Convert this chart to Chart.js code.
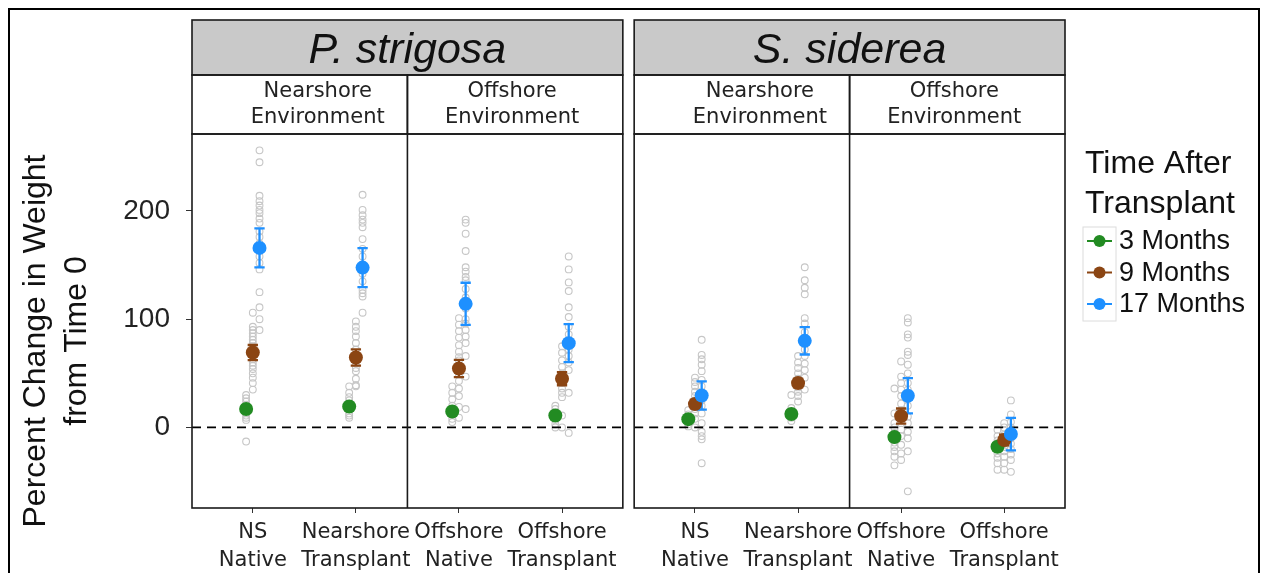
<!DOCTYPE html>
<html>
<head>
<meta charset="utf-8">
<script src="https://cdn.jsdelivr.net/npm/chart.js@4.4.1/dist/chart.umd.min.js"></script>
<style>
html,body{margin:0;padding:0;background:#fff;}
#wrap{width:1262px;height:573px;position:relative;}
</style>
</head>
<body>
<div id="wrap"><canvas id="c" width="1262" height="573"></canvas></div>
<script>
// ---------------- data ----------------
const species = ['P. strigosa', 'S. siderea'];
const environments = [['Nearshore', 'Environment'], ['Offshore', 'Environment']];
const categories = [
  ['NS', 'Native'], ['Nearshore', 'Transplant'], ['Offshore', 'Native'], ['Offshore', 'Transplant'],
  ['NS', 'Native'], ['Nearshore', 'Transplant'], ['Offshore', 'Native'], ['Offshore', 'Transplant']
];
const timeLabels = ['3 Months', '9 Months', '17 Months'];
const yTicks = [0, 100, 200];
const yTitle = ['Percent Change in Weight', 'from Time 0'];
const legendTitle = ['Time After', 'Transplant'];

// group means (one per category)
const mean3  = [17, 19.4, 14.8, 11, 7.7, 12.4, -8.9, -17.8];
const mean9  = [69.2, 64.6, 54.5, 45, 21.6, 41, 10.5, -11.6];
const mean17 = [165.9, 147.7, 114.2, 77.9, 29.5, 80, 29.3, -6.1];
// standard errors
const se3  = [2, 2, 2, 2, 2, 2, 3, 3];
const se9  = [7, 7.5, 8, 6, 4, 4, 7, 5];
const se17 = [18, 18, 19.5, 17.5, 13, 12.6, 16.3, 15];

// individual colonies (one list per category)
const raw3 = [
  [30, 27, 24, 21, 19, 17, 15, 13, 11, 9, 7, -13],
  [38, 32, 28, 25, 22, 19, 17, 13, 11, 9],
  [38, 32, 26, 20, 15, 12, 8, 5],
  [20, 17, 13, 10, 7, 3, 0],
  [16, 12, 8, 6, 3, 1],
  [30, 18, 14, 12, 9, 6],
  [36, 13, 4, 0, -5, -10, -14, -18, -22, -27, -35],
  [-2, -8, -12, -16, -20, -24, -28, -33, -39]
];
const raw9 = [
  [106, 93, 90, 87, 84, 81, 78, 75, 72, 69, 66, 63, 60, 57, 54, 50, 46, 41, 35],
  [98, 93, 89, 84, 78, 72, 66, 63, 59, 55, 52, 45, 39, 38],
  [101, 95, 89, 83, 76, 70, 65, 62, 57, 53, 49, 43, 36, 29, 19, 9],
  [75, 69, 62, 56, 50, 46, 41, 36, 32, 28, 11, 0],
  [46, 42, 38, 33, 29, 25, 21, 17, 13, 8, 0],
  [66, 60, 55, 50, 45, 41, 37, 33, 29, 24],
  [61, 47, 41, 35, 29, 22, 16, 10, 4, -2, -8, -16, -24, -30],
  [4, 0, -3, -7, -11, -15, -18, -22, -27, -33, -39]
];
const raw17 = [
  [256, 245, 214, 209, 205, 201, 198, 193, 189, 181, 176, 170, 164, 158, 152, 146, 125, 111, 100, 90],
  [215, 201, 196, 192, 189, 185, 174, 165, 158, 150, 142, 135, 127, 124, 121, 106],
  [192, 189, 179, 163, 148, 144, 139, 136, 128, 120, 110, 100, 96, 90, 84, 78, 66, 47, 17],
  [158, 146, 134, 126, 111, 102, 93, 86, 78, 72, 66, 60, 53, 32, -5],
  [81, 67, 63, 58, 52, 44, 38, 30, 25, 20, 13, 4, -4, -8, -11, -33],
  [148, 136, 129, 123, 101, 96, 88, 80, 72, 66, 59, 53, 46, 35],
  [101, 97, 86, 83, 70, 67, 58, 50, 41, 35, 28, 20, 10, 4, -4, -10, -22, -59],
  [25, 12, 5, 0, -5, -10, -15, -20, -25, -30, -41]
];

// ---------------- layout / style ----------------
const COLORS = ['#228B22', '#8B4513', '#1E90FF'];
const PER_SPECIES = 4;
const SPECIES_SHIFT = 4.29;   // category units between species panels
const EXPAND = 0.59;          // discrete expansion of each species panel
const DODGE = [-0.065, 0, 0.065];
const CAP_HALF = 0.05;
const Y_MIN = -74.4, Y_MAX = 271.1;
const ENV_TEXT_SHIFT = [18, -3]; // px offset of environment strip labels

const catPos = categories.map((c, i) => (i % PER_SPECIES) + 1 + Math.floor(i / PER_SPECIES) * SPECIES_SHIFT);
const X_MIN = 1 - EXPAND;
const X_MAX = PER_SPECIES + EXPAND + SPECIES_SHIFT;

const means = [mean3, mean9, mean17];
const ses = [se3, se9, se17];
const raws = [raw3, raw9, raw17];

function rawPoints(t) {
  const pts = [];
  raws[t].forEach((list, i) => list.forEach(v => pts.push({x: catPos[i] + DODGE[t], y: v})));
  return pts;
}
function meanPoints(t) {
  return means[t].map((v, i) => ({x: catPos[i] + DODGE[t], y: v}));
}
const zeroLine = [];
species.forEach((s, k) => {
  if (k > 0) zeroLine.push({x: X_MIN + k * SPECIES_SHIFT - 0.05, y: null});
  zeroLine.push({x: X_MIN + k * SPECIES_SHIFT, y: 0});
  zeroLine.push({x: PER_SPECIES + EXPAND + k * SPECIES_SHIFT, y: 0});
});

const datasets = [];
[0, 1, 2].forEach(t => datasets.push({
  type: 'scatter', label: 'raw ' + timeLabels[t], data: rawPoints(t), order: 10 + t,
  pointRadius: 3.4, pointBackgroundColor: 'rgba(0,0,0,0)', pointBorderColor: '#c6c6c6', pointBorderWidth: 1.1
}));
datasets.push({
  type: 'line', label: 'zero', id: 'zero', data: zeroLine, order: 5,
  borderColor: '#000', borderWidth: 1.8, borderDash: [9, 6], pointRadius: 0, spanGaps: false, fill: false
});
[0, 1, 2].forEach(t => datasets.push({
  type: 'scatter', label: timeLabels[t], data: meanPoints(t), order: 3 - t,
  pointRadius: 7, pointBackgroundColor: COLORS[t], pointBorderWidth: 0
}));

const SANS = '"Liberation Sans", Arial, sans-serif';
const DEJA = '"DejaVu Sans", sans-serif';
Chart.defaults.font.family = SANS;

const decor = {
  id: 'decor',
  beforeDraw(chart) {
    const ctx = chart.ctx;
    ctx.save();
    ctx.fillStyle = '#fff';
    ctx.fillRect(0, 0, chart.width, chart.height);
    ctx.restore();
  },
  afterDatasetDraw(chart, args) {
    if (chart.data.datasets[args.index].id !== 'zero') return;
    const ctx = chart.ctx, xs = chart.scales.x, ys = chart.scales.y;
    ctx.save();
    [0, 1, 2].forEach(t => {
      ctx.strokeStyle = COLORS[t];
      ctx.lineWidth = 2.3;
      means[t].forEach((m, i) => {
        const xv = catPos[i] + DODGE[t];
        const x = xs.getPixelForValue(xv);
        const xl = xs.getPixelForValue(xv - CAP_HALF), xr = xs.getPixelForValue(xv + CAP_HALF);
        const yl = ys.getPixelForValue(m - ses[t][i]), yh = ys.getPixelForValue(m + ses[t][i]);
        ctx.beginPath();
        ctx.moveTo(x, yl); ctx.lineTo(x, yh);
        ctx.moveTo(xl, yl); ctx.lineTo(xr, yl);
        ctx.moveTo(xl, yh); ctx.lineTo(xr, yh);
        ctx.stroke();
      });
    });
    ctx.restore();
  },
  afterDraw(chart) {
    const ctx = chart.ctx, xs = chart.scales.x, area = chart.chartArea;
    ctx.save();
    // outer frame
    ctx.strokeStyle = '#000';
    ctx.lineWidth = 2;
    ctx.strokeRect(9, 9, 1250, 620);

    const STRIP_TOP = 20, STRIP_MID = 75;
    species.forEach((name, k) => {
      const l = xs.getPixelForValue(X_MIN + k * SPECIES_SHIFT);
      const r = xs.getPixelForValue(PER_SPECIES + EXPAND + k * SPECIES_SHIFT);
      const d = xs.getPixelForValue(2.5 + k * SPECIES_SHIFT);
      // species strip
      ctx.fillStyle = '#c9c9c9';
      ctx.fillRect(l, STRIP_TOP, r - l, STRIP_MID - STRIP_TOP);
      ctx.strokeStyle = '#1a1a1a';
      ctx.lineWidth = 1.6;
      ctx.strokeRect(l, STRIP_TOP, r - l, STRIP_MID - STRIP_TOP);
      ctx.fillStyle = '#111';
      ctx.font = 'italic 43px ' + SANS;
      ctx.textAlign = 'center';
      ctx.textBaseline = 'alphabetic';
      ctx.fillText(name, (l + r) / 2, 63);
      // environment strips
      ctx.strokeRect(l, STRIP_MID, d - l, area.top - STRIP_MID);
      ctx.strokeRect(d, STRIP_MID, r - d, area.top - STRIP_MID);
      ctx.font = '21px ' + DEJA;
      ctx.textBaseline = 'middle';
      ctx.fillStyle = '#222';
      [[l, d], [d, r]].forEach((seg, e) => {
        const cx = (seg[0] + seg[1]) / 2 + ENV_TEXT_SHIFT[e];
        ctx.fillText(environments[e][0], cx, 92);
        ctx.fillText(environments[e][1], cx, 118);
      });
      // panel borders
      ctx.lineWidth = 1.6;
      ctx.strokeRect(l, area.top, r - l, area.bottom - area.top);
      ctx.beginPath();
      ctx.moveTo(d, area.top); ctx.lineTo(d, area.bottom);
      ctx.stroke();
    });

    // y title
    ctx.save();
    ctx.fillStyle = '#111';
    ctx.font = '32px ' + SANS;
    ctx.textAlign = 'center';
    ctx.textBaseline = 'middle';
    ctx.translate(36, 341);
    ctx.rotate(-Math.PI / 2);
    ctx.fillText(yTitle[0], 0, 0);
    ctx.fillText(yTitle[1], 0, 41);
    ctx.restore();

    // legend
    ctx.fillStyle = '#111';
    ctx.font = '32px ' + SANS;
    ctx.textAlign = 'left';
    ctx.textBaseline = 'alphabetic';
    ctx.fillText(legendTitle[0], 1085, 173);
    ctx.fillText(legendTitle[1], 1085, 213);
    ctx.strokeStyle = '#dcdcdc';
    ctx.lineWidth = 1;
    ctx.strokeRect(1083, 227, 33, 94);
    ctx.font = '27px ' + SANS;
    ctx.textBaseline = 'middle';
    timeLabels.forEach((lab, t) => {
      const y = 241 + t * 31.5;
      ctx.strokeStyle = COLORS[t];
      ctx.lineWidth = 2;
      ctx.beginPath(); ctx.moveTo(1087, y); ctx.lineTo(1112, y); ctx.stroke();
      ctx.fillStyle = COLORS[t];
      ctx.beginPath(); ctx.arc(1099.5, y, 6, 0, Math.PI * 2); ctx.fill();
      ctx.fillStyle = '#111';
      ctx.fillText(lab, 1119, y + 1);
    });
    ctx.restore();
  }
};

new Chart(document.getElementById('c'), {
  type: 'scatter',
  data: {datasets},
  options: {
    responsive: false,
    animation: false,
    devicePixelRatio: 1,
    events: [],
    layout: {padding: {left: 0, top: 134, right: 197, bottom: 0}},
    plugins: {legend: {display: false}, tooltip: {enabled: false}},
    scales: {
      x: {
        type: 'linear', min: X_MIN, max: X_MAX,
        afterBuildTicks: s => { s.ticks = catPos.map(v => ({value: v})); },
        afterFit: s => { s.height = 65; },
        grid: {display: true, drawOnChartArea: false, drawTicks: true, tickLength: 5, color: '#333', lineWidth: 1},
        border: {display: false},
        ticks: {
          autoSkip: false, maxRotation: 0, minRotation: 0, padding: 6, color: '#222',
          font: {family: DEJA, size: 21, lineHeight: 1.33},
          callback: (v, i) => categories[i]
        }
      },
      y: {
        type: 'linear', min: Y_MIN, max: Y_MAX,
        afterBuildTicks: s => { s.ticks = yTicks.map(v => ({value: v})); },
        afterFit: s => { s.width = 192; },
        grid: {display: true, drawOnChartArea: false, drawTicks: true, tickLength: 6, color: '#333', lineWidth: 1},
        border: {display: false},
        ticks: {padding: 16, color: '#222', font: {family: SANS, size: 28}, callback: v => String(v)}
      }
    }
  },
  plugins: [decor]
});
</script>
</body>
</html>
